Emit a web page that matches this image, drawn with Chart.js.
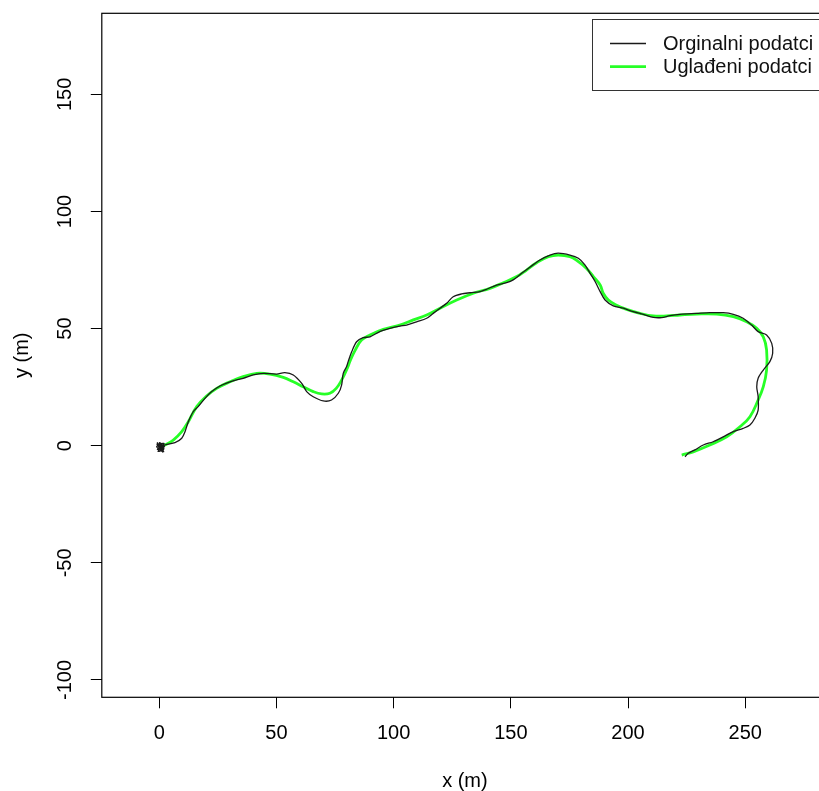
<!DOCTYPE html>
<html>
<head>
<meta charset="utf-8">
<script src="https://cdn.jsdelivr.net/npm/chart.js@4"></script>
<style>
    html, body { margin: 0; padding: 0; background: #fff; overflow: hidden; }
    #wrap { width: 836px; height: 791px; }
</style>
</head>
<body>
<div id="wrap"><canvas id="putanja"></canvas></div>
<script>
const legendLabels = ['Orginalni podatci', 'Uglađeni podatci'];
const xTicks = [0, 50, 100, 150, 200, 250];
const yTicks = [-100, -50, 0, 50, 100, 150];

// [x, y] in metres
const originalPath = [
    [-0.9, 1.4], [1.9, -2.5], [-1.1, -0.4], [2.1, 1.0], [-0.5, -2.4], [2.0, -1.3],
    [-1.0, 0.7], [1.5, -2.7], [0.1, 1.3], [2.2, -0.5], [-0.8, -1.6], [1.7, 0.5],
    [0.3, -2.3], [1.2, -0.2], [-0.4, 0.2], [1.6, -1.9], [0.6, 0.8], [0.9, -1.0],
    [2.4, 0.3], [6.7, 1.3], [9.6, 3.2], [11.0, 6.0], [12.4, 10.2], [14.5, 14.5],
    [16.6, 16.7], [19.5, 20.2], [22.4, 23.1], [25.9, 25.5], [30.2, 27.3], [35.8, 28.8],
    [40.1, 30.2], [44.4, 30.9], [50.1, 30.6], [53.6, 31.2], [57.2, 30.2], [60.8, 26.6],
    [62.9, 23.1], [65.7, 20.9], [70.0, 19.1], [73.5, 19.5], [76.4, 22.4], [77.8, 25.9],
    [78.5, 30.9], [79.9, 33.7], [80.6, 35.9], [82.1, 40.1], [84.2, 44.4], [87.0, 46.1],
    [89.9, 46.5], [94.1, 48.7], [98.4, 50.1], [102.6, 51.1], [105.5, 51.5], [109.8, 52.9],
    [114.1, 54.4], [116.9, 56.5], [119.8, 58.7], [122.6, 60.8], [125.4, 63.6], [129.0, 64.8],
    [132.6, 65.3], [136.9, 65.8], [139.7, 66.8], [143.9, 68.6], [148.2, 69.6], [151.0, 70.8],
    [154.6, 73.6], [158.1, 76.2], [162.4, 79.3], [166.7, 81.4], [170.2, 82.2], [175.2, 81.4],
    [178.8, 80.0], [181.6, 77.2], [183.8, 73.6], [186.0, 70.0], [188.1, 65.8], [190.2, 62.2],
    [193.7, 59.7], [198.0, 58.7], [202.2, 57.2], [206.5, 56.1], [210.8, 54.8], [214.3, 54.7],
    [217.9, 55.5], [222.1, 56.1], [229.3, 56.5], [234.9, 56.8], [240.6, 56.8], [244.9, 56.1],
    [249.1, 54.4], [252.7, 51.5], [255.5, 48.7], [259.1, 47.3], [261.3, 43.7], [261.7, 39.5],
    [260.5, 35.9], [257.7, 32.3], [255.5, 28.8], [254.9, 25.2], [255.5, 20.9], [255.5, 15.2],
    [254.1, 11.7], [252.0, 8.8], [249.1, 7.4], [244.9, 6.0], [240.6, 3.8], [236.3, 1.7],
    [232.1, 0.3], [228.5, -1.8], [225.7, -3.2], [224.3, -4.7]
];

const smoothedPath = [
    [0.3, -0.7], [2.4, 0.3], [6.0, 2.4], [9.6, 6.0], [12.4, 10.2], [16.0, 16.7],
    [20.2, 21.2], [24.5, 24.5], [30.2, 27.3], [35.8, 29.5], [41.6, 30.9], [47.2, 30.6],
    [52.9, 29.2], [57.2, 27.3], [61.4, 25.2], [65.7, 23.1], [69.3, 22.1], [72.8, 22.4],
    [75.5, 24.5], [77.8, 28.0], [79.9, 32.3], [81.6, 36.6], [83.5, 40.6], [86.3, 45.1],
    [89.9, 47.3], [95.6, 49.7], [102.6, 51.5], [108.4, 53.7], [114.1, 55.8], [119.8, 58.7],
    [126.9, 62.2], [134.0, 65.1], [141.1, 67.2], [146.8, 69.6], [152.5, 72.2], [156.7, 75.0],
    [161.0, 78.1], [166.0, 80.7], [170.2, 81.4], [175.2, 80.7], [178.8, 78.6], [182.3, 75.7],
    [185.2, 72.2], [188.1, 68.6], [189.4, 65.1], [191.6, 62.2], [195.1, 60.0], [199.4, 58.2],
    [205.1, 56.5], [210.8, 55.4], [216.5, 55.4], [222.1, 55.8], [229.3, 56.2], [237.8, 56.2],
    [244.9, 55.1], [250.6, 52.9], [254.9, 50.1], [257.7, 46.5], [259.1, 40.9], [259.1, 32.3],
    [257.7, 25.2], [255.5, 19.5], [252.0, 12.4], [247.7, 8.1], [242.1, 3.8], [234.9, 0.3],
    [227.8, -2.6], [222.9, -4.0]
];

const fontFamily = '"Liberation Sans", Arial, Helvetica, sans-serif';

function toPoints(path) {
    return path.map(function (p) {
        return { x: p[0], y: p[1] };
    });
}

// R-style box around the plot region
const frameBox = {
    id: 'frameBox',
    afterDraw: function (chart) {
        const ctx = chart.ctx;
        const a = chart.chartArea;
        ctx.save();
        ctx.strokeStyle = '#000';
        ctx.lineWidth = 1.2;
        ctx.strokeRect(a.left, a.top, a.right - a.left, a.bottom - a.top);
        ctx.restore();
    }
};

// R-style legend in the top right corner
const boxLegend = {
    id: 'boxLegend',
    afterDraw: function (chart) {
        const ctx = chart.ctx;
        const a = chart.chartArea;
        const left = 592.5;
        const top = 19.5;
        ctx.save();
        ctx.fillStyle = '#fff';
        ctx.fillRect(left, top, a.right - left, 71);
        ctx.strokeStyle = '#333';
        ctx.lineWidth = 1;
        ctx.strokeRect(left, top, a.right - left, 71);
        ctx.font = '20px ' + fontFamily;
        ctx.textBaseline = 'middle';
        ctx.textAlign = 'left';
        chart.data.datasets.forEach(function (ds, i) {
            const y = 43.5 + i * 23.2;
            ctx.strokeStyle = ds.borderColor;
            ctx.lineWidth = ds.borderWidth;
            ctx.beginPath();
            ctx.moveTo(610, y);
            ctx.lineTo(646, y);
            ctx.stroke();
            ctx.fillStyle = '#111';
            ctx.fillText(ds.label, 663, y + 1);
        });
        ctx.restore();
    }
};

function noEdgePadding(scale) {
    scale.paddingTop = 0;
    scale.paddingBottom = 0;
    scale.paddingLeft = 0;
    scale.paddingRight = 0;
}

new Chart(document.getElementById('putanja'), {
    type: 'scatter',
    data: {
        datasets: [
            {
                label: legendLabels[0],
                data: toPoints(originalPath),
                showLine: true,
                borderColor: '#1a1a1a',
                borderWidth: 1.3,
                pointRadius: 0,
                tension: 0.3
            },
            {
                label: legendLabels[1],
                data: toPoints(smoothedPath),
                showLine: true,
                borderColor: 'rgba(0, 255, 0, 0.85)',
                borderWidth: 2.8,
                pointRadius: 0,
                tension: 0.4
            }
        ]
    },
    options: {
        responsive: true,
        maintainAspectRatio: false,
        animation: false,
        layout: {
            padding: { top: 13.3, right: 8, left: 0, bottom: 0 }
        },
        plugins: {
            legend: { display: false },
            tooltip: { enabled: false }
        },
        scales: {
            x: {
                type: 'linear',
                min: -24.5,
                max: 285.3,
                afterBuildTicks: function (scale) {
                    scale.ticks = xTicks.map(function (v) { return { value: v }; });
                },
                afterFit: function (scale) {
                    scale.height = 93.7;
                    noEdgePadding(scale);
                },
                border: { display: false },
                grid: {
                    drawOnChartArea: false,
                    drawTicks: true,
                    tickLength: 11,
                    color: '#000',
                    lineWidth: 1
                },
                ticks: {
                    color: '#000',
                    padding: 13,
                    maxRotation: 0,
                    font: { family: fontFamily, size: 20 }
                },
                title: {
                    display: true,
                    text: 'x (m)',
                    color: '#000',
                    padding: 0,
                    font: { family: fontFamily, size: 20, lineHeight: 1 }
                }
            },
            y: {
                type: 'linear',
                min: -107.4,
                max: 184.6,
                afterBuildTicks: function (scale) {
                    scale.ticks = yTicks.map(function (v) { return { value: v }; });
                },
                afterFit: function (scale) {
                    scale.width = 101.8;
                    noEdgePadding(scale);
                },
                border: { display: false },
                grid: {
                    drawOnChartArea: false,
                    drawTicks: true,
                    tickLength: 11,
                    color: '#000',
                    lineWidth: 1
                },
                ticks: {
                    color: '#000',
                    padding: 5,
                    minRotation: 90,
                    maxRotation: 90,
                    crossAlign: 'center',
                    font: { family: fontFamily, size: 20 }
                },
                title: {
                    display: true,
                    text: 'y (m)',
                    color: '#000',
                    padding: { top: 12, bottom: 0 },
                    font: { family: fontFamily, size: 20, lineHeight: 1 }
                }
            }
        }
    },
    plugins: [frameBox, boxLegend]
});
</script>
</body>
</html>
